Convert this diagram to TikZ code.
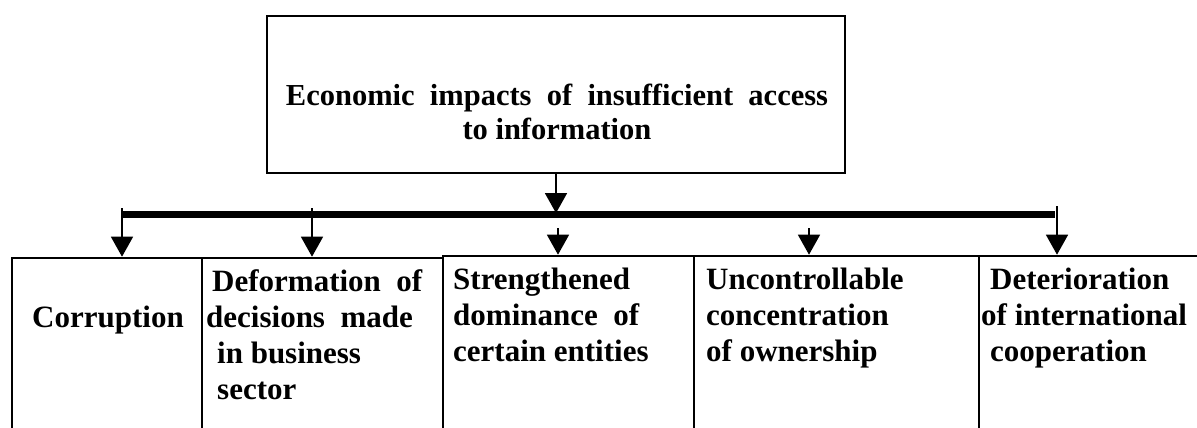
\documentclass[tikz,border=0pt]{standalone}
\usepackage{fontspec}
\setmainfont{Liberation Serif}
\usetikzlibrary{arrows.meta}
\tikzset{
  boxframe/.style={draw=black, line width=2.6pt, rectangle, inner sep=0pt},
  topframe/.style={draw=black, line width=2.2pt, rectangle, inner sep=0pt},
  txt/.style={anchor=north west, inner sep=0pt, align=left, font=\bfseries\fontsize{31}{36}\selectfont},
  toptxt/.style={inner sep=0pt, align=center, font=\bfseries\fontsize{30.5}{34}\selectfont},
  arr/.style={line width=1.5pt, -{Triangle[width=22pt,length=20pt]}},
  busbar/.style={line width=7pt}
}
\begin{document}
\begin{tikzpicture}[x=1pt,y=-1pt]
\useasboundingbox (0,0) rectangle (1197,428);
% top box
\node[topframe, minimum width=578pt, minimum height=157pt] (top) at (556,94.5) {};
\node[toptxt] (toptext) at (557,112) {Economic\ \ impacts\ \ of\ \ insufficient\ \ access\\ to information};
% bottom boxes (open at the bottom: they run below the page)
\node[boxframe, minimum width=190pt, minimum height=200pt] (b1) at (107,358) {};
\node[boxframe, minimum width=241pt, minimum height=200pt] (b2) at (322.5,358) {};
\node[boxframe, minimum width=251pt, minimum height=202pt] (b3) at (568.5,357) {};
\node[boxframe, minimum width=285pt, minimum height=202pt] (b4) at (836.5,357) {};
\node[boxframe, minimum width=240pt, minimum height=202pt] (b5) at (1099,357) {};
% texts
\node[txt] (t1) at (32,306) {Corruption};
\node[txt] (t2) at (206,269) {\hspace{6pt}Deformation\ \ of\\decisions\ \ made\\\hspace{11pt}in business\\\hspace{11pt}sector};
\node[txt] (t3) at (453,268) {Strengthened\\dominance\ \ of\\certain entities};
\node[txt] (t4) at (706,268) {Uncontrollable\\concentration\\of ownership};
\node[txt] (t5) at (981,268) {\hspace{9pt}Deterioration\\of international\\\hspace{9pt}cooperation};
% bus bar
\coordinate (bL) at (123,214.5);
\coordinate (bR) at (1055,214.5);
\draw[busbar] (bL) -- (bR);
% arrows
\draw[arr] (top.south) -- ++(0,39);
\coordinate (s1) at (122,208);
\coordinate (s2) at (312,208);
\coordinate (s3) at (558,228);
\coordinate (s4) at (809,228);
\coordinate (s5) at (1057,206);
\draw[arr] (s1) -- (s1 |- b1.north);
\draw[arr] (s2) -- (s2 |- b2.north);
\draw[arr] (s3) -- (s3 |- b3.north);
\draw[arr] (s4) -- (s4 |- b4.north);
\draw[arr] (s5) -- (s5 |- b5.north);
\end{tikzpicture}
\end{document}
